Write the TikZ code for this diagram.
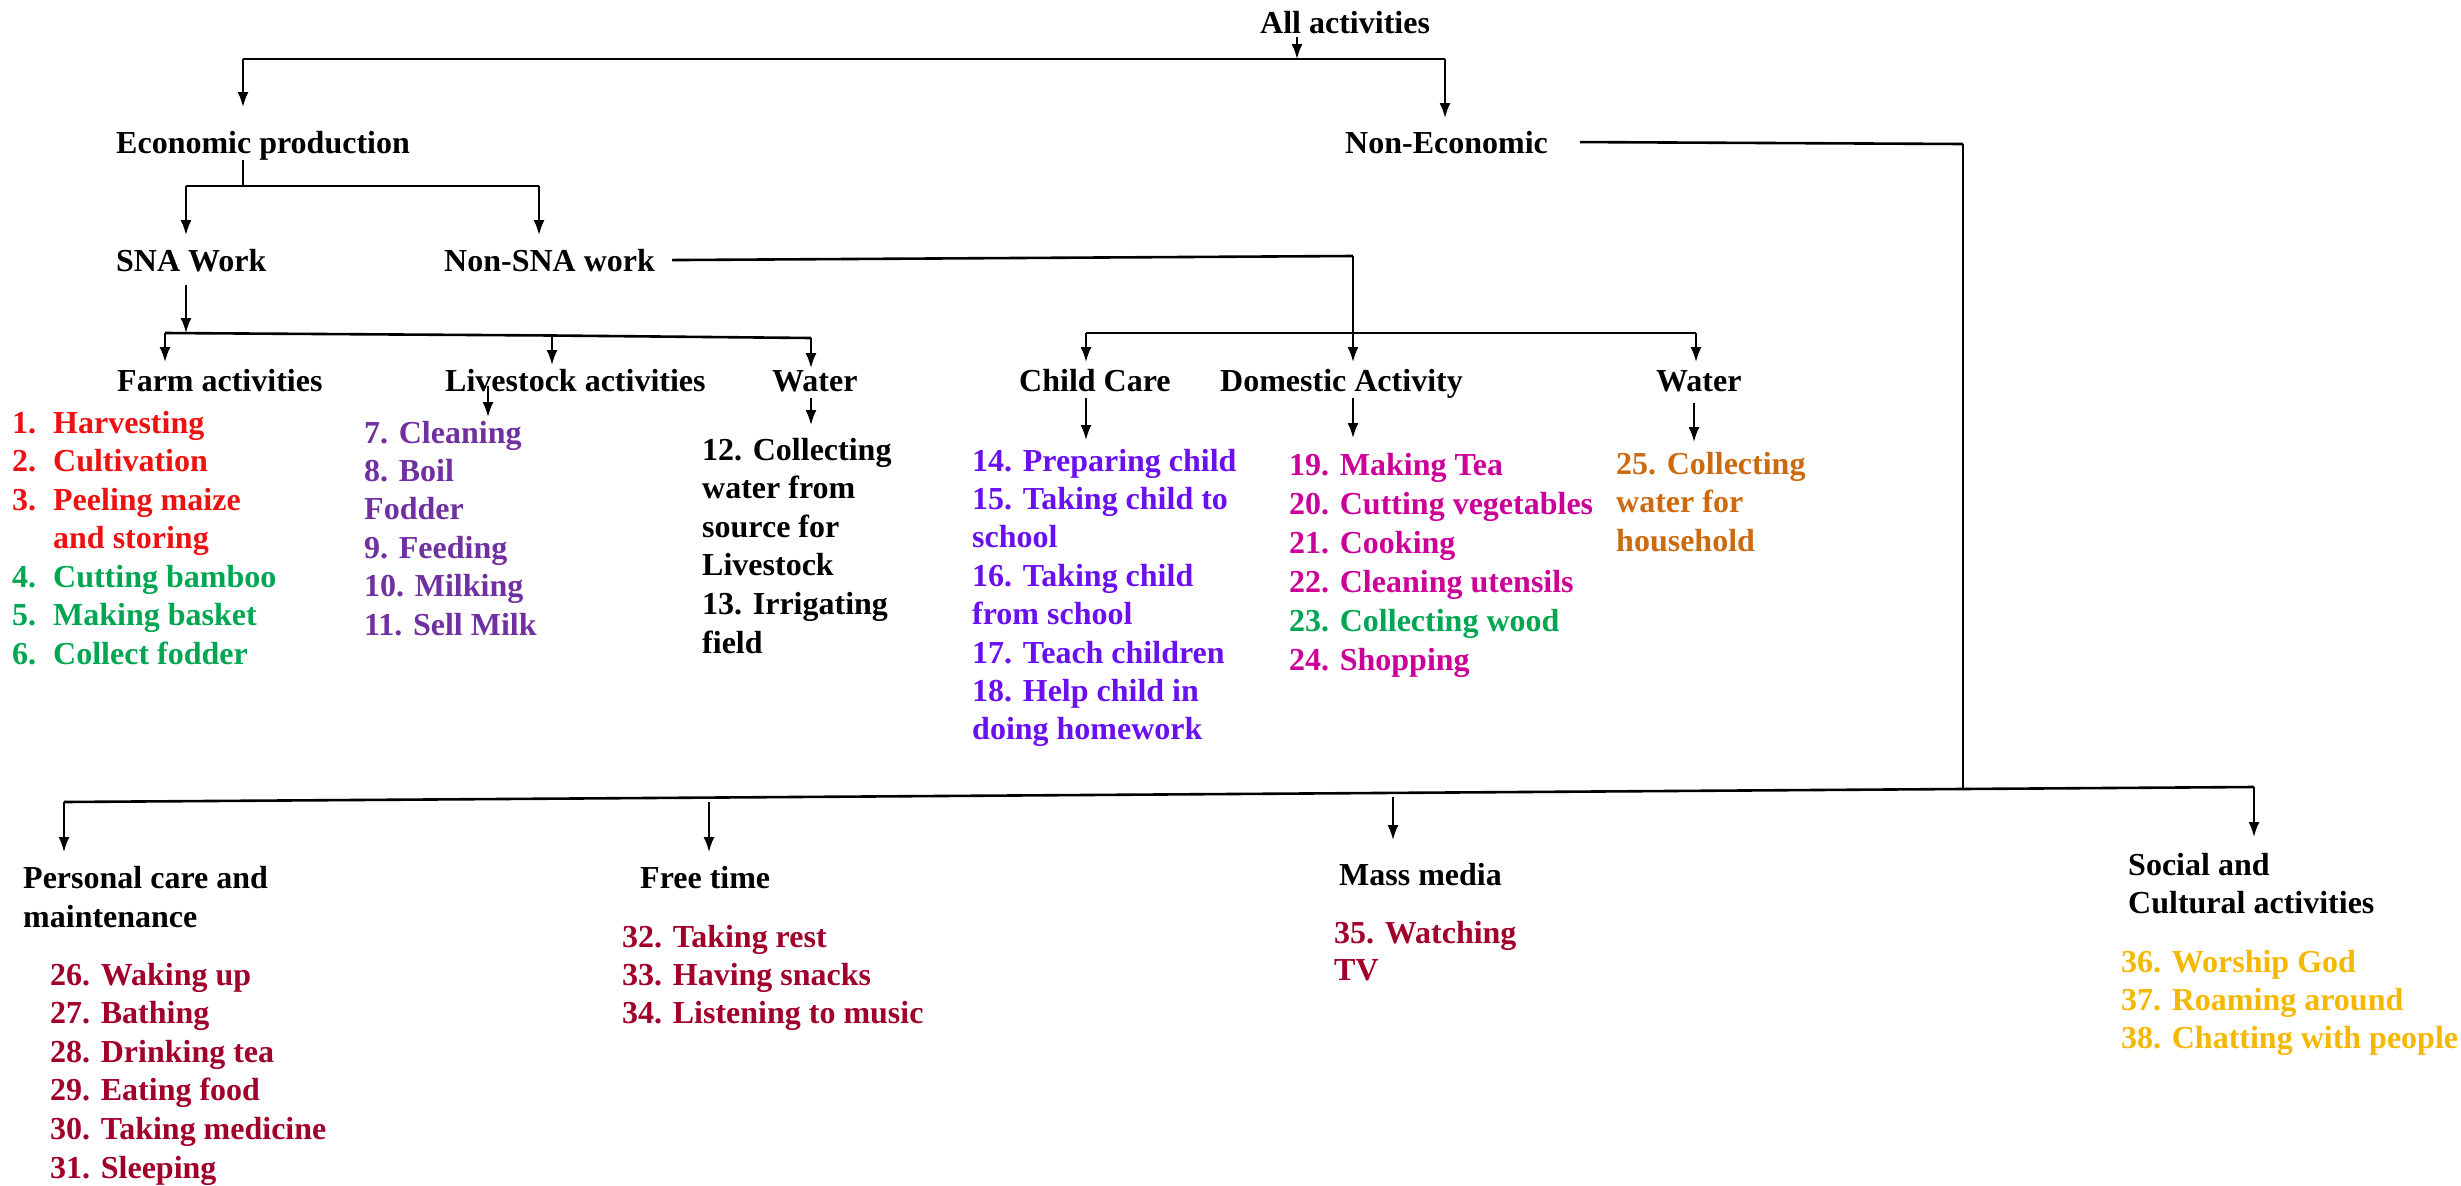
\documentclass[tikz,border=0pt]{standalone}
\usepackage{fontspec}
\setmainfont{Liberation Serif}
\usetikzlibrary{arrows.meta,calc}
\definecolor{cRed}{HTML}{EE1111}
\definecolor{cGreen}{HTML}{00A651}
\definecolor{cPurple}{HTML}{7030A0}
\definecolor{cViolet}{HTML}{6A10F0}
\definecolor{cMagenta}{HTML}{CC0099}
\definecolor{cOrange}{HTML}{CC6A10}
\definecolor{cDark}{HTML}{A0002A}
\definecolor{cGold}{HTML}{F5B800}
\begin{document}
\begin{tikzpicture}[x=1pt,y=-1pt,
  txt/.style={anchor=base west, inner sep=0pt, font=\fontsize{32}{38}\selectfont\bfseries},
  bar/.style={line width=2.6pt},
  lnk/.style={line width=2pt},
  arr/.style={line width=2pt,-{Latex[length=15pt,width=11pt]}},
]
\useasboundingbox (0,0) rectangle (2461,1186);

% ---------- headers ----------
\node[txt] (all) at (1260,33) {All activities};
\node[txt] (econ) at (116,153) {Economic production};
\node[txt] (noneco) at (1345,153) {Non-Economic};
\node[txt] (sna) at (116,271) {SNA Work};
\node[txt] (nonsna) at (444,271) {Non-SNA work};
\node[txt] (farm) at (117,391) {Farm activities};
\node[txt] (live) at (445,391) {Livestock activities};
\node[txt] (water) at (772,391) {Water};
\node[txt] (child) at (1019,391) {Child Care};
\node[txt] (dom) at (1220,391) {Domestic Activity};
\node[txt] (water2) at (1656,391) {Water};
\node[txt] (pers) at (23,888) {Personal care and};
\node[txt] (pers2) at (23,927) {maintenance};
\node[txt] (free) at (640,888) {Free time};
\node[txt] (mass) at (1339,885) {Mass media};
\node[txt] (soc) at (2128,875) {Social and};
\node[txt] (soc2) at (2128,913) {Cultural activities};

% ---------- farm ----------
\node[txt,cRed] (f1) at (12,433) {\makebox[41pt][l]{1.}Harvesting};
\node[txt,cRed] (f2) at (12,471.5) {\makebox[41pt][l]{2.}Cultivation};
\node[txt,cRed] (f3) at (12,510) {\makebox[41pt][l]{3.}Peeling maize};
\node[txt,cRed] (f3b) at (53,548.5) {and storing};
\node[txt,cGreen] (f4) at (12,587) {\makebox[41pt][l]{4.}Cutting bamboo};
\node[txt,cGreen] (f5) at (12,625.5) {\makebox[41pt][l]{5.}Making basket};
\node[txt,cGreen] (f6) at (12,664) {\makebox[41pt][l]{6.}Collect fodder};

% ---------- livestock ----------
\node[txt,cPurple] (l1) at (364,443) {7. Cleaning};
\node[txt,cPurple] (l2) at (364,481.4) {8. Boil};
\node[txt,cPurple] (l3) at (364,519.8) {Fodder};
\node[txt,cPurple] (l4) at (364,558.2) {9. Feeding};
\node[txt,cPurple] (l5) at (364,596.6) {10. Milking};
\node[txt,cPurple] (l6) at (364,635) {11. Sell Milk};

% ---------- water (SNA) ----------
\node[txt] (w1) at (702,460) {12. Collecting};
\node[txt] (w2) at (702,498.6) {water from};
\node[txt] (w3) at (702,537.2) {source for};
\node[txt] (w4) at (702,575.8) {Livestock};
\node[txt] (w5) at (702,614.4) {13. Irrigating};
\node[txt] (w6) at (702,653) {field};

% ---------- child care ----------
\node[txt,cViolet] (c1) at (972,471) {14. Preparing child};
\node[txt,cViolet] (c2) at (972,509.4) {15. Taking child to};
\node[txt,cViolet] (c3) at (972,547.8) {school};
\node[txt,cViolet] (c4) at (972,586.2) {16. Taking child};
\node[txt,cViolet] (c5) at (972,624.6) {from school};
\node[txt,cViolet] (c6) at (972,663) {17. Teach children};
\node[txt,cViolet] (c7) at (972,701.4) {18. Help child in};
\node[txt,cViolet] (c8) at (972,739.8) {doing homework};

% ---------- domestic ----------
\node[txt,cMagenta] (d1) at (1289,475) {19. Making Tea};
\node[txt,cMagenta] (d2) at (1289,514) {20. Cutting vegetables};
\node[txt,cMagenta] (d3) at (1289,553) {21. Cooking};
\node[txt,cMagenta] (d4) at (1289,592) {22. Cleaning utensils};
\node[txt,cGreen] (d5) at (1289,631) {23. Collecting wood};
\node[txt,cMagenta] (d6) at (1289,670) {24. Shopping};

% ---------- water (household) ----------
\node[txt,cOrange] (h1) at (1616,474) {25. Collecting};
\node[txt,cOrange] (h2) at (1616,512.5) {water for};
\node[txt,cOrange] (h3) at (1616,551) {household};

% ---------- personal care ----------
\node[txt,cDark] (p1) at (50,985) {26. Waking up};
\node[txt,cDark] (p2) at (50,1023.6) {27. Bathing};
\node[txt,cDark] (p3) at (50,1062.2) {28. Drinking tea};
\node[txt,cDark] (p4) at (50,1100.8) {29. Eating food};
\node[txt,cDark] (p5) at (50,1139.4) {30. Taking medicine};
\node[txt,cDark] (p6) at (50,1178) {31. Sleeping};

% ---------- free time ----------
\node[txt,cDark] (t1) at (622,947) {32. Taking rest};
\node[txt,cDark] (t2) at (622,985) {33. Having snacks};
\node[txt,cDark] (t3) at (622,1023) {34. Listening to music};

% ---------- mass media ----------
\node[txt,cDark] (m1) at (1334,943) {35. Watching};
\node[txt,cDark] (m2) at (1334,980) {TV};

% ---------- social ----------
\node[txt,cGold] (s1) at (2121,972) {36. Worship God};
\node[txt,cGold] (s2) at (2121,1010) {37. Roaming around};
\node[txt,cGold] (s3) at (2121,1048) {38. Chatting with people};

% ---------- junction coordinates ----------
\coordinate (topJ) at (1297,59);
\coordinate (topL) at (243,59);
\coordinate (topR) at (1445,59);
\coordinate (econTip) at (243,107);
\coordinate (nonTip) at (1445,118);
\coordinate (econJ) at (243,186);
\coordinate (econL) at (186,186);
\coordinate (econR) at (539,186);
\coordinate (snaTip) at (186,235);
\coordinate (nonsnaTip) at (539,235);
\coordinate (snaJ) at (186,333);
\coordinate (snaL) at (165,333);
\coordinate (snaM) at (552,335.5);
\coordinate (snaR) at (811,338);
\coordinate (farmTip) at (165,362);
\coordinate (liveTip) at (552,365);
\coordinate (waterTip) at (811,368);
\coordinate (nsJ) at (1353,256);
\coordinate (nsL) at (1086,333);
\coordinate (nsR) at (1696,333);
\coordinate (childTip) at (1086,362);
\coordinate (domTip) at (1353,362);
\coordinate (water2Tip) at (1696,362);
\coordinate (neJ) at (1963,144);
\coordinate (botJ) at (1963,788);
\coordinate (botL) at (64,802);
\coordinate (botR) at (2254,787);
\coordinate (persTip) at (64,852);
\coordinate (freeS) at (709,802);
\coordinate (freeTip) at (709,852);
\coordinate (massS) at (1393,797);
\coordinate (massTip) at (1393,840);
\coordinate (socTip) at (2254,837);

% ---------- connectors ----------
% all activities
\draw[arr] (1297,37) -- (topJ);
\draw[bar] (topL) -- (topR);
\draw[arr] (topL) -- (econTip);
\draw[arr] (topR) -- (nonTip);
% economic production
\draw[lnk] (econ.south -| econJ) -- (econJ);
\draw[bar] (econL) -- (econR);
\draw[arr] (econL) -- (snaTip);
\draw[arr] (econR) -- (nonsnaTip);
% SNA work
\draw[arr] (186,285) -- (snaJ);
\draw[bar] (snaL) -- (snaM) -- (snaR);
\draw[arr] (snaL) -- (farmTip);
\draw[arr] (snaM) -- (liveTip);
\draw[arr] (snaR) -- (waterTip);
\draw[arr] (488,386) -- (488,417);
\draw[arr] (811,398) -- (811,425);
% non-SNA work
\draw[bar] ($(nonsna.east)+(17,0)$) -- (nsJ);
\draw[arr] (nsJ) -- (domTip);
\draw[bar] (nsL) -- (nsR);
\draw[arr] (nsL) -- (childTip);
\draw[arr] (nsR) -- (water2Tip);
\draw[arr] (1086,398) -- (1086,440);
\draw[arr] (1353,398) -- (1353,438);
\draw[arr] (1694,403) -- (1694,442);
% non-economic
\draw[bar] ($(noneco.east)+(32,0)$) -- (neJ);
\draw[lnk] (neJ) -- (botJ);
\draw[bar] (botL) -- (botR);
\draw[arr] (botL) -- (persTip);
\draw[arr] (freeS) -- (freeTip);
\draw[arr] (massS) -- (massTip);
\draw[arr] (botR) -- (socTip);
\end{tikzpicture}
\end{document}
